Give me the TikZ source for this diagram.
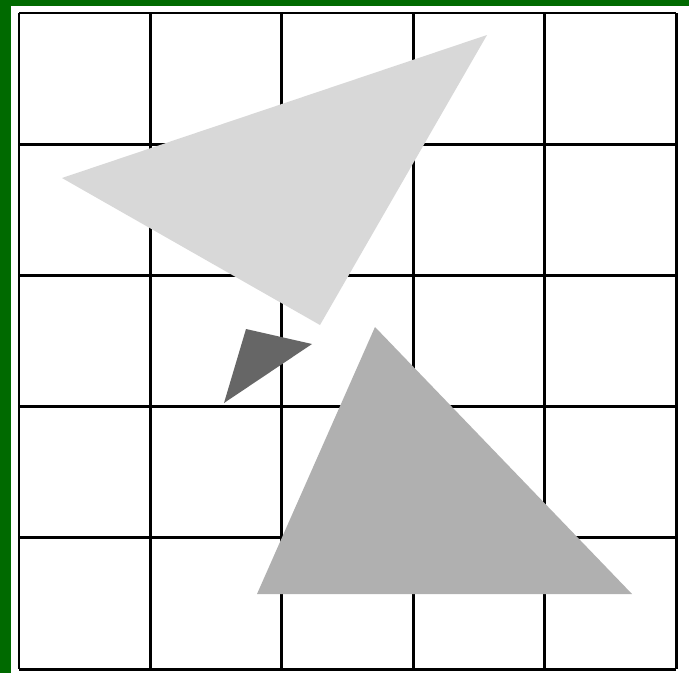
\documentclass[tikz,border=0pt]{standalone}
\usepackage{xcolor}
\usepackage{tikz}
\definecolor{frameGreen}{HTML}{006A00}
\definecolor{lightTri}{HTML}{D8D8D8}
\definecolor{midTri}{HTML}{B0B0B0}
\definecolor{darkTri}{HTML}{666666}
\tikzset{gridline/.style={line width=1.7pt, black}}

\begin{document}
\begin{tikzpicture}[x=0.02cm, y=-0.02cm]
    % page and green edge
    \useasboundingbox (0,0) rectangle (689,673);
    \fill[frameGreen] (0,0) rectangle (689,673);
    \fill[white] (11,6) rectangle (689,673);
    % 5x5 grid
    \foreach \i in {0,...,5} {
        \draw[gridline] ({19+131.4*\i},13) -- ({19+131.4*\i},669);
        \draw[gridline] (19,{13+131.2*\i}) -- (676,{13+131.2*\i});
    }
    % triangles
    \fill[lightTri] (62,178) -- (487,35) -- (320,325) -- cycle;
    \fill[darkTri] (246,329) -- (312,344) -- (224,403) -- cycle;
    \fill[midTri] (375,327) -- (632,594) -- (257,594) -- cycle;
\end{tikzpicture}
\end{document}
